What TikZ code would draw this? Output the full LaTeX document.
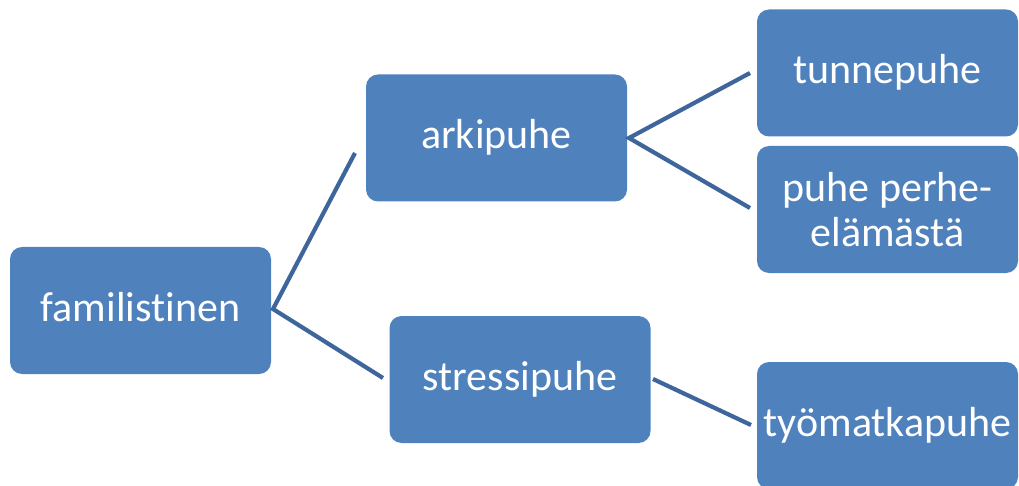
\documentclass[tikz,border=0pt]{standalone}
\usepackage{fontspec}
\setmainfont{Carlito}[Ligatures=NoCommon]
\definecolor{boxfill}{RGB}{79,129,189}
\definecolor{linecol}{RGB}{62,102,156}
\begin{document}
\begin{tikzpicture}[x=1pt,y=-1pt,
  box/.style={fill=boxfill, draw=none, rounded corners=12pt, text=white,
    minimum width=261pt, minimum height=127pt, inner sep=0pt,
    font=\fontsize{42}{45}\selectfont},
  one/.style={text height=30pt, text depth=8pt},
  conn/.style={draw=linecol, line width=4.2pt}]
\useasboundingbox (0,0) rectangle (1019,486);
\node[box,one] (fam) at (140.5,310.5) {familistinen};
\node[box,one] (ark) at (496.5,138) {arkipuhe};
\node[box,one] (str) at (520,379.5) {stressipuhe};
\node[box,one] (tun) at (887.5,73) {tunnepuhe};
\node[box,align=center] (per) at (887.5,209.5) {puhe perhe-\\elämästä};
\node[box,one] (tyo) at (887.5,425.5) {työmatkapuhe};
\coordinate (j1) at (273,309);
\coordinate (e1) at (355,153);
\coordinate (e2) at (383,378);
\coordinate (j2) at (629,138);
\coordinate (e3) at (750,73);
\coordinate (e4) at (750,208);
\coordinate (j3) at (653,379);
\coordinate (e5) at (751,425);
\draw[conn] (e1) -- (j1) -- (e2);
\draw[conn] (e3) -- (j2) -- (e4);
\draw[conn] (j3) -- (e5);
\end{tikzpicture}
\end{document}
